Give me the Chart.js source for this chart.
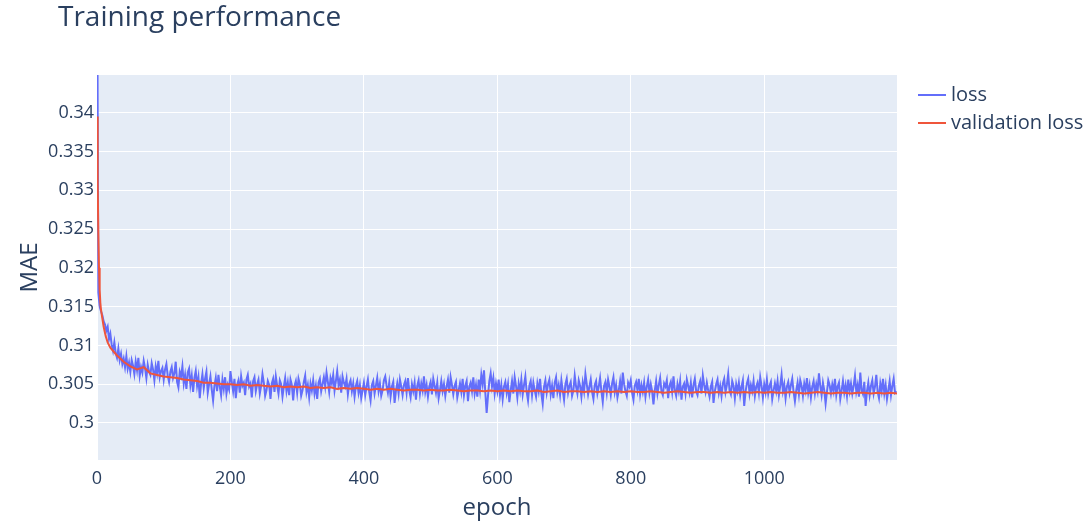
<!DOCTYPE html>
<html>
<head>
<meta charset="utf-8">
<title>Training performance</title>
<script src="https://cdn.jsdelivr.net/npm/chart.js@4.4.1/dist/chart.umd.min.js"></script>
<style>
  html, body { margin: 0; padding: 0; background: #fff; }
  #chart { display: block; }
</style>
</head>
<body>
<canvas id="chart" width="1089" height="524"></canvas>
<script>
// loss read every 2 epochs (0, 2, 4 ... 1198), one row = 20 epochs
const LOSS_STEP = 2;
const lossValues = [
  0.3650, 0.3168, 0.3150, 0.3144, 0.3139, 0.3131, 0.3127, 0.3119, 0.3124, 0.3108,
  0.3115, 0.3101, 0.3093, 0.3104, 0.3090, 0.3084, 0.3096, 0.3081, 0.3089, 0.3076,
  0.3083, 0.3072, 0.3086, 0.3070, 0.3078, 0.3066, 0.3081, 0.3074, 0.3063, 0.3079,
  0.3068, 0.3084, 0.3061, 0.3072, 0.3065, 0.3080, 0.3071, 0.3058, 0.3075, 0.3066,
  0.3062, 0.3077, 0.3069, 0.3055, 0.3073, 0.3064, 0.3080, 0.3059, 0.3067, 0.3071,
  0.3056, 0.3069, 0.3076, 0.3061, 0.3053, 0.3066, 0.3072, 0.3058, 0.3064, 0.3079,
  0.3053, 0.3046, 0.3066, 0.3060, 0.3073, 0.3051, 0.3062, 0.3044, 0.3065, 0.3070,
  0.3049, 0.3061, 0.3040, 0.3058, 0.3067, 0.3048, 0.3059, 0.3032, 0.3051, 0.3063,
  0.3045, 0.3057, 0.3066, 0.3039, 0.3050, 0.3060, 0.3043, 0.3029, 0.3048, 0.3058,
  0.3041, 0.3062, 0.3047, 0.3036, 0.3056, 0.3044, 0.3059, 0.3038, 0.3049, 0.3043,
  0.3067, 0.3053, 0.3041, 0.3057, 0.3032, 0.3049, 0.3055, 0.3039, 0.3060, 0.3048,
  0.3052, 0.3036, 0.3056, 0.3062, 0.3047, 0.3051, 0.3033, 0.3054, 0.3059, 0.3041,
  0.3050, 0.3056, 0.3038, 0.3048, 0.3063, 0.3052, 0.3035, 0.3042, 0.3054, 0.3049,
  0.3031, 0.3051, 0.3057, 0.3040, 0.3060, 0.3048, 0.3038, 0.3055, 0.3050, 0.3034,
  0.3047, 0.3058, 0.3041, 0.3052, 0.3036, 0.3056, 0.3049, 0.3029, 0.3048, 0.3054,
  0.3039, 0.3057, 0.3050, 0.3035, 0.3042, 0.3053, 0.3061, 0.3040, 0.3049, 0.3033,
  0.3051, 0.3042, 0.3055, 0.3038, 0.3048, 0.3031, 0.3052, 0.3057, 0.3041, 0.3050,
  0.3059, 0.3047, 0.3065, 0.3053, 0.3040, 0.3058, 0.3051, 0.3062, 0.3042, 0.3054,
  0.3067, 0.3049, 0.3056, 0.3039, 0.3060, 0.3052, 0.3047, 0.3057, 0.3037, 0.3050,
  0.3055, 0.3041, 0.3051, 0.3034, 0.3048, 0.3054, 0.3039, 0.3049, 0.3032, 0.3042,
  0.3052, 0.3036, 0.3047, 0.3056, 0.3040, 0.3029, 0.3049, 0.3054, 0.3038, 0.3048,
  0.3058, 0.3041, 0.3051, 0.3035, 0.3042, 0.3055, 0.3060, 0.3048, 0.3039, 0.3052,
  0.3034, 0.3047, 0.3053, 0.3026, 0.3041, 0.3051, 0.3038, 0.3056, 0.3047, 0.3036,
  0.3049, 0.3054, 0.3039, 0.3058, 0.3042, 0.3033, 0.3050, 0.3041, 0.3052, 0.3030,
  0.3048, 0.3055, 0.3038, 0.3051, 0.3042, 0.3060, 0.3040, 0.3049, 0.3034, 0.3047,
  0.3053, 0.3037, 0.3057, 0.3048, 0.3039, 0.3052, 0.3032, 0.3042, 0.3054, 0.3041,
  0.3050, 0.3035, 0.3047, 0.3056, 0.3039, 0.3059, 0.3049, 0.3037, 0.3048, 0.3053,
  0.3033, 0.3042, 0.3051, 0.3040, 0.3057, 0.3036, 0.3048, 0.3054, 0.3028, 0.3047,
  0.3052, 0.3041, 0.3059, 0.3038, 0.3049, 0.3034, 0.3056, 0.3042, 0.3062, 0.3050,
  0.3068, 0.3039, 0.3013, 0.3035, 0.3054, 0.3064, 0.3047, 0.3058, 0.3038, 0.3051,
  0.3041, 0.3056, 0.3036, 0.3049, 0.3031, 0.3047, 0.3053, 0.3039, 0.3050, 0.3027,
  0.3042, 0.3054, 0.3038, 0.3059, 0.3048, 0.3033, 0.3051, 0.3041, 0.3056, 0.3037,
  0.3049, 0.3060, 0.3040, 0.3029, 0.3048, 0.3054, 0.3036, 0.3052, 0.3042, 0.3034,
  0.3051, 0.3041, 0.3057, 0.3038, 0.3025, 0.3047, 0.3055, 0.3039, 0.3050, 0.3056,
  0.3037, 0.3048, 0.3032, 0.3052, 0.3059, 0.3040, 0.3049, 0.3036, 0.3055, 0.3042,
  0.3030, 0.3050, 0.3057, 0.3039, 0.3048, 0.3053, 0.3035, 0.3042, 0.3061, 0.3047,
  0.3038, 0.3055, 0.3048, 0.3034, 0.3052, 0.3041, 0.3063, 0.3050, 0.3037, 0.3047,
  0.3056, 0.3040, 0.3031, 0.3049, 0.3054, 0.3038, 0.3047, 0.3058, 0.3041, 0.3027,
  0.3048, 0.3053, 0.3039, 0.3056, 0.3047, 0.3036, 0.3051, 0.3059, 0.3040, 0.3049,
  0.3033, 0.3042, 0.3054, 0.3038, 0.3065, 0.3050, 0.3041, 0.3035, 0.3052, 0.3047,
  0.3055, 0.3039, 0.3030, 0.3048, 0.3053, 0.3042, 0.3057, 0.3037, 0.3049, 0.3040,
  0.3052, 0.3034, 0.3047, 0.3056, 0.3039, 0.3050, 0.3041, 0.3024, 0.3042, 0.3054,
  0.3038, 0.3049, 0.3058, 0.3041, 0.3036, 0.3051, 0.3047, 0.3055, 0.3032, 0.3048,
  0.3053, 0.3040, 0.3060, 0.3042, 0.3035, 0.3050, 0.3041, 0.3054, 0.3030, 0.3047,
  0.3051, 0.3038, 0.3056, 0.3048, 0.3039, 0.3052, 0.3033, 0.3049, 0.3057, 0.3041,
  0.3036, 0.3048, 0.3054, 0.3038, 0.3061, 0.3049, 0.3040, 0.3052, 0.3042, 0.3034,
  0.3047, 0.3053, 0.3026, 0.3041, 0.3050, 0.3056, 0.3039, 0.3048, 0.3035, 0.3051,
  0.3057, 0.3040, 0.3049, 0.3063, 0.3042, 0.3037, 0.3054, 0.3048, 0.3032, 0.3050,
  0.3041, 0.3052, 0.3036, 0.3047, 0.3055, 0.3022, 0.3040, 0.3051, 0.3057, 0.3038,
  0.3049, 0.3041, 0.3054, 0.3035, 0.3047, 0.3052, 0.3039, 0.3059, 0.3048, 0.3033,
  0.3050, 0.3040, 0.3056, 0.3038, 0.3048, 0.3053, 0.3031, 0.3042, 0.3051, 0.3041,
  0.3054, 0.3036, 0.3048, 0.3062, 0.3041, 0.3050, 0.3032, 0.3047, 0.3053, 0.3039,
  0.3049, 0.3057, 0.3040, 0.3028, 0.3042, 0.3052, 0.3037, 0.3055, 0.3048, 0.3035,
  0.3051, 0.3042, 0.3058, 0.3039, 0.3049, 0.3033, 0.3047, 0.3054, 0.3038, 0.3050,
  0.3041, 0.3064, 0.3048, 0.3036, 0.3052, 0.3042, 0.3025, 0.3040, 0.3055, 0.3049,
  0.3038, 0.3050, 0.3041, 0.3057, 0.3036, 0.3047, 0.3052, 0.3031, 0.3042, 0.3054,
  0.3039, 0.3049, 0.3035, 0.3056, 0.3041, 0.3051, 0.3038, 0.3048, 0.3061, 0.3040,
  0.3049, 0.3034, 0.3065, 0.3042, 0.3037, 0.3053, 0.3022, 0.3041, 0.3052, 0.3036,
  0.3048, 0.3055, 0.3038, 0.3047, 0.3062, 0.3040, 0.3032, 0.3051, 0.3041, 0.3057,
  0.3038, 0.3049, 0.3031, 0.3042, 0.3054, 0.3036, 0.3048, 0.3057, 0.3039, 0.3041
];

// validation loss: dense at the start, then every 10 epochs
const valEpochs = [0, 1, 2, 3, 4, 5, 6, 8, 10, 13, 16,
  20, 30, 40, 50, 60, 70, 80, 90, 100, 110,
  120, 130, 140, 150, 160, 170, 180, 190, 200, 210,
  220, 230, 240, 250, 260, 270, 280, 290, 300, 310,
  320, 330, 340, 350, 360, 370, 380, 390, 400, 410,
  420, 430, 440, 450, 460, 470, 480, 490, 500, 510,
  520, 530, 540, 550, 560, 570, 580, 590, 600, 610,
  620, 630, 640, 650, 660, 670, 680, 690, 700, 710,
  720, 730, 740, 750, 760, 770, 780, 790, 800, 810,
  820, 830, 840, 850, 860, 870, 880, 890, 900, 910,
  920, 930, 940, 950, 960, 970, 980, 990, 1000, 1010,
  1020, 1030, 1040, 1050, 1060, 1070, 1080, 1090, 1100, 1110,
  1120, 1130, 1140, 1150, 1160, 1170, 1180, 1190, 1199];
const valValues = [0.3395, 0.3310, 0.3245, 0.3200, 0.3172, 0.3155, 0.3146, 0.3135, 0.3124, 0.3112, 0.3104,
  0.3097, 0.3087, 0.3079, 0.3073, 0.3069, 0.3072, 0.3064, 0.3062, 0.3060, 0.3059,
  0.3058, 0.3056, 0.3055, 0.3054, 0.3052, 0.3052, 0.3051, 0.3050, 0.3050, 0.3049,
  0.3050, 0.3048, 0.3049, 0.3048, 0.3047, 0.3048, 0.3046, 0.3047, 0.3046, 0.3047,
  0.3045, 0.3046, 0.3045, 0.3046, 0.3044, 0.3045, 0.3044, 0.3045, 0.3044, 0.3043,
  0.3044, 0.3043, 0.3044, 0.3043, 0.3042, 0.3043, 0.3043, 0.3042, 0.3043, 0.3042,
  0.3042, 0.3043, 0.3042, 0.3041, 0.3042, 0.3042, 0.3041, 0.3042, 0.3041, 0.3042,
  0.3041, 0.3042, 0.3041, 0.3041, 0.3042, 0.3040, 0.3041, 0.3042, 0.3040, 0.3041,
  0.3041, 0.3040, 0.3041, 0.3040, 0.3041, 0.3040, 0.3041, 0.3040, 0.3041, 0.3040,
  0.3040, 0.3041, 0.3040, 0.3039, 0.3040, 0.3041, 0.3040, 0.3039, 0.3040, 0.3040,
  0.3039, 0.3040, 0.3039, 0.3040, 0.3039, 0.3040, 0.3039, 0.3040, 0.3039, 0.3040,
  0.3039, 0.3039, 0.3040, 0.3039, 0.3038, 0.3039, 0.3040, 0.3039, 0.3038, 0.3039,
  0.3039, 0.3038, 0.3039, 0.3039, 0.3038, 0.3039, 0.3038, 0.3039, 0.3038];

const xTicks = [0, 200, 400, 600, 800, 1000];
const yTicks = [0.3, 0.305, 0.31, 0.315, 0.32, 0.325, 0.33, 0.335, 0.34];

const TEXT = '#2a3f5f';
const FONT = '"Open Sans", "Noto Sans", sans-serif';

const lossPoints = lossValues.map((v, i) => ({ x: i * LOSS_STEP, y: v }));
const valPoints = valValues.map((v, i) => ({ x: valEpochs[i], y: v }));

// plotly-ish look: grey-blue plot area, title and legend drawn by hand
const plotBackground = {
  id: 'plotBackground',
  beforeDraw(chart) {
    const { ctx, chartArea: a } = chart;
    ctx.save();
    ctx.fillStyle = '#ffffff';
    ctx.fillRect(0, 0, chart.width, chart.height);
    ctx.fillStyle = '#E5ECF6';
    ctx.fillRect(a.left, a.top, a.right - a.left, a.bottom - a.top);
    ctx.restore();
  }
};

const titleAndLegend = {
  id: 'titleAndLegend',
  afterDraw(chart) {
    const { ctx } = chart;
    ctx.save();
    ctx.fillStyle = TEXT;
    ctx.textBaseline = 'middle';
    ctx.font = '28px ' + FONT;
    ctx.fillText('Training performance', 58, 18);

    ctx.font = '20px ' + FONT;
    chart.data.datasets.forEach((ds, i) => {
      const y = 95 + i * 28;
      ctx.strokeStyle = ds.borderColor;
      ctx.lineWidth = 2;
      ctx.beginPath();
      ctx.moveTo(918, y);
      ctx.lineTo(946, y);
      ctx.stroke();
      ctx.fillStyle = TEXT;
      ctx.fillText(ds.label, 951, y);
    });
    ctx.restore();
  }
};

new Chart(document.getElementById('chart'), {
  type: 'line',
  data: {
    datasets: [{
      label: 'loss',
      data: lossPoints,
      borderColor: '#636efa',
      borderWidth: 2,
      pointRadius: 0,
      tension: 0,
      order: 1
    }, {
      label: 'validation loss',
      data: valPoints,
      borderColor: '#EF553B',
      borderWidth: 2,
      pointRadius: 0,
      tension: 0,
      order: 0
    }]
  },
  options: {
    responsive: false,
    animation: false,
    devicePixelRatio: 1,
    layout: { padding: { top: 75, right: 192, bottom: 0, left: 0 } },
    plugins: {
      legend: { display: false },
      title: { display: false },
      tooltip: { enabled: false }
    },
    scales: {
      x: {
        type: 'linear',
        min: 0,
        max: 1199,
        afterBuildTicks: s => { s.ticks = xTicks.map(v => ({ value: v })); },
        afterFit: s => { s.height = 64; },
        border: { display: false },
        grid: { color: '#ffffff', lineWidth: 1, drawTicks: false },
        ticks: {
          color: TEXT,
          font: { family: FONT, size: 18 },
          padding: 8,
          maxRotation: 0,
          callback: v => String(v)
        },
        title: {
          display: true,
          text: 'epoch',
          color: TEXT,
          font: { family: FONT, size: 24 },
          padding: { top: 0, bottom: 1 }
        }
      },
      y: {
        min: 0.29523,
        max: 0.34486,
        afterBuildTicks: s => { s.ticks = yTicks.map(v => ({ value: v })); },
        afterFit: s => { s.width = 97; },
        border: { display: false },
        grid: { color: '#ffffff', lineWidth: 1, drawTicks: false },
        ticks: {
          color: TEXT,
          font: { family: FONT, size: 18 },
          padding: 3,
          callback: v => String(Number(v.toFixed(3)))
        },
        title: {
          display: true,
          text: 'MAE',
          color: TEXT,
          font: { family: FONT, size: 24 },
          padding: { top: 16, bottom: 0 }
        }
      }
    }
  },
  plugins: [plotBackground, titleAndLegend]
});
</script>
</body>
</html>
